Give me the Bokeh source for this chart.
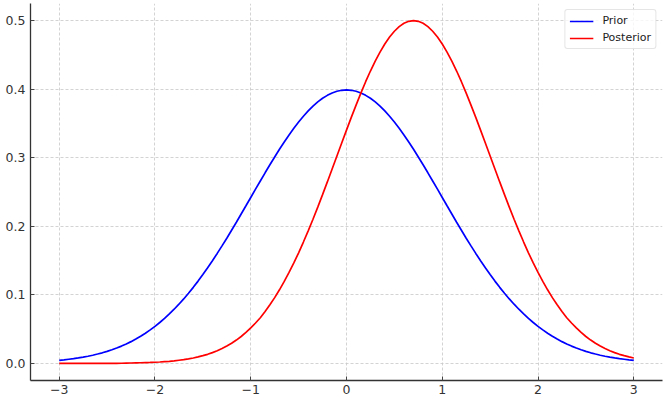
from bokeh.plotting import figure
from bokeh.models import FixedTicker, Range1d, Legend, LegendItem
from bokeh.embed import file_html
from bokeh.resources import INLINE

x_vals = [-3.00, -2.95, -2.90, -2.85, -2.80, -2.75, -2.70, -2.65, -2.60, -2.55,
          -2.50, -2.45, -2.40, -2.35, -2.30, -2.25, -2.20, -2.15, -2.10, -2.05,
          -2.00, -1.95, -1.90, -1.85, -1.80, -1.75, -1.70, -1.65, -1.60, -1.55,
          -1.50, -1.45, -1.40, -1.35, -1.30, -1.25, -1.20, -1.15, -1.10, -1.05,
          -1.00, -0.95, -0.90, -0.85, -0.80, -0.75, -0.70, -0.65, -0.60, -0.55,
          -0.50, -0.45, -0.40, -0.35, -0.30, -0.25, -0.20, -0.15, -0.10, -0.05,
          0.00, 0.05, 0.10, 0.15, 0.20, 0.25, 0.30, 0.35, 0.40, 0.45,
          0.50, 0.55, 0.60, 0.65, 0.70, 0.75, 0.80, 0.85, 0.90, 0.95,
          1.00, 1.05, 1.10, 1.15, 1.20, 1.25, 1.30, 1.35, 1.40, 1.45,
          1.50, 1.55, 1.60, 1.65, 1.70, 1.75, 1.80, 1.85, 1.90, 1.95,
          2.00, 2.05, 2.10, 2.15, 2.20, 2.25, 2.30, 2.35, 2.40, 2.45,
          2.50, 2.55, 2.60, 2.65, 2.70, 2.75, 2.80, 2.85, 2.90, 2.95,
          3.00]

prior = [0.0044, 0.0051, 0.0060, 0.0069, 0.0079, 0.0091, 0.0104, 0.0119, 0.0136, 0.0154,
         0.0175, 0.0198, 0.0224, 0.0252, 0.0283, 0.0317, 0.0355, 0.0396, 0.0440, 0.0488,
         0.0540, 0.0596, 0.0656, 0.0721, 0.0790, 0.0863, 0.0940, 0.1023, 0.1109, 0.1200,
         0.1295, 0.1394, 0.1497, 0.1604, 0.1714, 0.1826, 0.1942, 0.2059, 0.2179, 0.2299,
         0.2420, 0.2541, 0.2661, 0.2780, 0.2897, 0.3011, 0.3123, 0.3230, 0.3332, 0.3429,
         0.3521, 0.3605, 0.3683, 0.3752, 0.3814, 0.3867, 0.3910, 0.3945, 0.3970, 0.3984,
         0.3989, 0.3984, 0.3970, 0.3945, 0.3910, 0.3867, 0.3814, 0.3752, 0.3683, 0.3605,
         0.3521, 0.3429, 0.3332, 0.3230, 0.3123, 0.3011, 0.2897, 0.2780, 0.2661, 0.2541,
         0.2420, 0.2299, 0.2179, 0.2059, 0.1942, 0.1826, 0.1714, 0.1604, 0.1497, 0.1394,
         0.1295, 0.1200, 0.1109, 0.1023, 0.0940, 0.0863, 0.0790, 0.0721, 0.0656, 0.0596,
         0.0540, 0.0488, 0.0440, 0.0396, 0.0355, 0.0317, 0.0283, 0.0252, 0.0224, 0.0198,
         0.0175, 0.0154, 0.0136, 0.0119, 0.0104, 0.0091, 0.0079, 0.0069, 0.0060, 0.0051,
         0.0044]

posterior = [0.0000, 0.0000, 0.0000, 0.0000, 0.0000, 0.0000, 0.0000, 0.0000, 0.0000, 0.0001,
             0.0001, 0.0001, 0.0001, 0.0002, 0.0004, 0.0005, 0.0007, 0.0009, 0.0011, 0.0013,
             0.0016, 0.0020, 0.0025, 0.0030, 0.0036, 0.0045, 0.0054, 0.0065, 0.0078, 0.0094,
             0.0112, 0.0132, 0.0157, 0.0184, 0.0216, 0.0252, 0.0293, 0.0340, 0.0392, 0.0451,
             0.0517, 0.0589, 0.0666, 0.0756, 0.0854, 0.0959, 0.1073, 0.1195, 0.1326, 0.1465,
             0.1613, 0.1770, 0.1933, 0.2103, 0.2280, 0.2461, 0.2647, 0.2835, 0.3025, 0.3214,
             0.3403, 0.3588, 0.3768, 0.3943, 0.4109, 0.4265, 0.4410, 0.4541, 0.4659, 0.4761,
             0.4845, 0.4912, 0.4961, 0.4990, 0.5000, 0.4990, 0.4961, 0.4912, 0.4845, 0.4761,
             0.4659, 0.4541, 0.4410, 0.4265, 0.4109, 0.3943, 0.3768, 0.3588, 0.3403, 0.3214,
             0.3025, 0.2835, 0.2647, 0.2461, 0.2280, 0.2103, 0.1933, 0.1770, 0.1613, 0.1465,
             0.1326, 0.1195, 0.1073, 0.0959, 0.0854, 0.0756, 0.0666, 0.0589, 0.0517, 0.0451,
             0.0392, 0.0340, 0.0293, 0.0252, 0.0216, 0.0184, 0.0157, 0.0132, 0.0112, 0.0094,
             0.0078]

series_names = ["Prior", "Posterior"]
series_colors = ["blue", "red"]

x_ticks = [-3, -2, -1, 0, 1, 2, 3]
x_tick_labels = ["\u22123", "\u22122", "\u22121", "0", "1", "2", "3"]
y_ticks = [0.0, 0.1, 0.2, 0.3, 0.4, 0.5]
y_tick_labels = ["0.0", "0.1", "0.2", "0.3", "0.4", "0.5"]

p = figure(width=665, height=401, output_backend="svg", toolbar_location=None,
           x_range=Range1d(-3.3, 3.3), y_range=Range1d(-0.025, 0.525))
p.min_border_left = 30
p.min_border_right = 3
p.min_border_top = 3
p.min_border_bottom = 21
p.outline_line_color = None

renderers = []
for ys, c in zip([prior, posterior], series_colors):
    r = p.line(x_vals, ys, line_color=c, line_width=1.7)
    renderers.append(r)

legend = Legend(items=[LegendItem(label=n, renderers=[r]) for n, r in zip(series_names, renderers)],
                location="top_right")
legend.label_text_font = "DejaVu Sans"
legend.label_text_font_size = "11px"
legend.label_text_color = "#222222"
legend.glyph_width = 24
legend.glyph_height = 12
legend.label_height = 12
legend.label_standoff = 9
legend.spacing = 4
legend.padding = 4
legend.margin = 6
legend.border_line_color = "#cccccc"
legend.border_line_width = 1
legend.background_fill_alpha = 0.8
if "border_radius" in legend.properties():
    legend.border_radius = 3
p.add_layout(legend)

p.xaxis.ticker = FixedTicker(ticks=x_ticks)
p.xaxis.major_label_overrides = {t: l for t, l in zip(x_ticks, x_tick_labels)}
p.yaxis.ticker = FixedTicker(ticks=y_ticks)
p.yaxis.major_label_overrides = {t: l for t, l in zip(y_ticks, y_tick_labels)}

for ax in [p.xaxis[0], p.yaxis[0]]:
    ax.axis_line_color = "#333333"
    ax.axis_line_width = 1.3
    ax.major_tick_line_color = "#444444"
    ax.major_tick_line_width = 1
    ax.minor_tick_line_color = None
    ax.major_label_text_font = "DejaVu Sans"
    ax.major_label_text_font_size = "12.5px"
    ax.major_label_text_color = "#333333"
    ax.major_tick_in = 4
    ax.major_tick_out = 0

p.xaxis.major_label_standoff = 4
p.yaxis.major_label_standoff = 5

for g in [p.xgrid[0], p.ygrid[0]]:
    g.grid_line_color = "#c8c8c8"
    g.grid_line_dash = "3 2"
    g.grid_line_width = 0.8

open("out.html", "w").write(file_html(p, INLINE))
